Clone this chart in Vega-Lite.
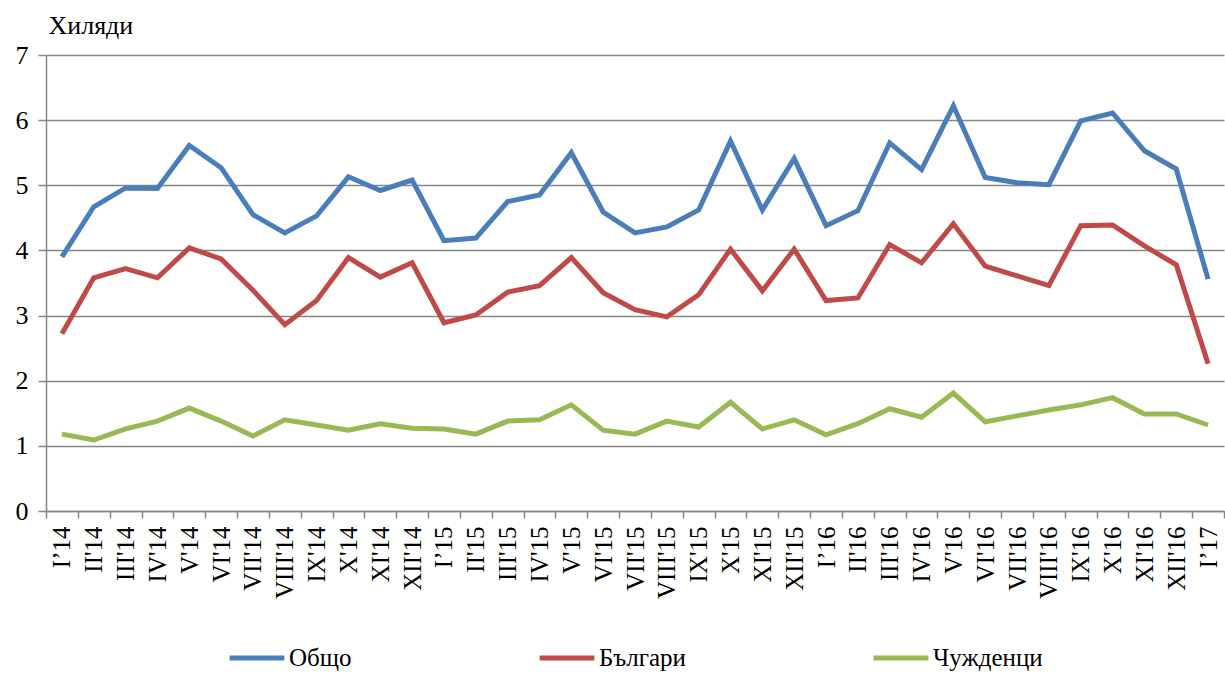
{
  "$schema": "https://vega.github.io/schema/vega-lite/v6.json",
  "autosize": "none",
  "padding": {"left": 46, "top": 55, "right": 1, "bottom": 162},
  "width": 1178,
  "height": 456,
  "background": "white",
  "config": {
    "font": "Liberation Serif",
    "view": {"stroke": null}
  },
  "data": {
    "values": [
      {"m": "I’14", "Общо": 3.90, "Българи": 2.72, "Чужденци": 1.18},
      {"m": "II'14", "Общо": 4.67, "Българи": 3.58, "Чужденци": 1.09},
      {"m": "III'14", "Общо": 4.96, "Българи": 3.72, "Чужденци": 1.26},
      {"m": "IV'14", "Общо": 4.95, "Българи": 3.58, "Чужденци": 1.38},
      {"m": "V'14", "Общо": 5.61, "Българи": 4.04, "Чужденци": 1.58},
      {"m": "VI'14", "Общо": 5.27, "Българи": 3.87, "Чужденци": 1.38},
      {"m": "VII'14", "Общо": 4.55, "Българи": 3.39, "Чужденци": 1.15},
      {"m": "VIII'14", "Общо": 4.27, "Българи": 2.86, "Чужденци": 1.40},
      {"m": "IX'14", "Общо": 4.53, "Българи": 3.23, "Чужденци": 1.32},
      {"m": "X'14", "Общо": 5.13, "Българи": 3.89, "Чужденци": 1.24},
      {"m": "XI'14", "Общо": 4.92, "Българи": 3.59, "Чужденци": 1.34},
      {"m": "XII'14", "Общо": 5.08, "Българи": 3.81, "Чужденци": 1.27},
      {"m": "I’15", "Общо": 4.15, "Българи": 2.89, "Чужденци": 1.26},
      {"m": "II'15", "Общо": 4.19, "Българи": 3.01, "Чужденци": 1.18},
      {"m": "III'15", "Общо": 4.75, "Българи": 3.36, "Чужденци": 1.38},
      {"m": "IV'15", "Общо": 4.85, "Българи": 3.46, "Чужденци": 1.40},
      {"m": "V'15", "Общо": 5.50, "Българи": 3.89, "Чужденци": 1.63},
      {"m": "VI'15", "Общо": 4.59, "Българи": 3.35, "Чужденци": 1.24},
      {"m": "VII'15", "Общо": 4.27, "Българи": 3.09, "Чужденци": 1.18},
      {"m": "VIII'15", "Общо": 4.36, "Българи": 2.98, "Чужденци": 1.38},
      {"m": "IX'15", "Общо": 4.62, "Българи": 3.32, "Чужденци": 1.29},
      {"m": "X'15", "Общо": 5.68, "Българи": 4.02, "Чужденци": 1.67},
      {"m": "XI'15", "Общо": 4.62, "Българи": 3.38, "Чужденци": 1.26},
      {"m": "XII'15", "Общо": 5.41, "Българи": 4.02, "Чужденци": 1.40},
      {"m": "I’16", "Общо": 4.38, "Българи": 3.23, "Чужденци": 1.17},
      {"m": "II'16", "Общо": 4.61, "Българи": 3.27, "Чужденци": 1.34},
      {"m": "III'16", "Общо": 5.65, "Българи": 4.09, "Чужденци": 1.57},
      {"m": "IV'16", "Общо": 5.24, "Българи": 3.81, "Чужденци": 1.44},
      {"m": "V'16", "Общо": 6.22, "Българи": 4.41, "Чужденци": 1.81},
      {"m": "VI'16", "Общо": 5.12, "Българи": 3.76, "Чужденци": 1.37},
      {"m": "VII'16", "Общо": 5.04, "Българи": 3.61, "Чужденци": 1.46},
      {"m": "VIII'16", "Общо": 5.01, "Българи": 3.46, "Чужденци": 1.55},
      {"m": "IX'16", "Общо": 5.99, "Българи": 4.38, "Чужденци": 1.63},
      {"m": "X'16", "Общо": 6.11, "Българи": 4.39, "Чужденци": 1.74},
      {"m": "XI'16", "Общо": 5.53, "Българи": 4.07, "Чужденци": 1.49},
      {"m": "XII'16", "Общо": 5.25, "Българи": 3.78, "Чужденци": 1.49},
      {"m": "I’17", "Общо": 3.56, "Българи": 2.26, "Чужденци": 1.32}
    ]
  },
  "transform": [
    {"fold": ["Общо", "Българи", "Чужденци"], "as": ["s", "v"]}
  ],
  "mark": {"type": "line", "strokeWidth": 5, "strokeJoin": "miter"},
  "encoding": {
    "x": {
      "field": "m",
      "type": "nominal",
      "sort": null,
      "bandPosition": 0.5,
      "scale": {"type": "band", "paddingInner": 0, "paddingOuter": 0},
      "axis": {
        "title": null,
        "labelAngle": -90,
        "labelAlign": "right",
        "labelBaseline": "middle",
        "labelFontSize": 25,
        "labelColor": "black",
        "labelPadding": 8,
        "labelOverlap": false,
        "tickBand": "extent",
        "tickSize": 7,
        "tickColor": "#868686",
        "tickWidth": 1.5,
        "domainColor": "#868686",
        "domainWidth": 1.5,
        "grid": false
      }
    },
    "y": {
      "field": "v",
      "type": "quantitative",
      "scale": {"domain": [0, 7], "nice": false},
      "axis": {
        "title": "Хиляди",
        "titleAngle": 0,
        "titleAlign": "left",
        "titleBaseline": "alphabetic",
        "titleX": 2,
        "titleY": -22,
        "titleFontSize": 26,
        "titleFontWeight": "normal",
        "titleColor": "black",
        "values": [0, 1, 2, 3, 4, 5, 6, 7],
        "labelFontSize": 26,
        "labelColor": "black",
        "labelPadding": 10,
        "tickSize": 8,
        "tickColor": "#868686",
        "tickWidth": 1.5,
        "domainColor": "#868686",
        "domainWidth": 1.5,
        "grid": true,
        "gridColor": "#868686",
        "gridWidth": 1.5
      }
    },
    "color": {
      "field": "s",
      "type": "nominal",
      "scale": {
        "domain": ["Общо", "Българи", "Чужденци"],
        "range": ["#4a7ebb", "#be4b48", "#98b954"]
      },
      "legend": {
        "title": null,
        "orient": "none",
        "direction": "horizontal",
        "legendX": 181,
        "legendY": 573,
        "columns": 3,
        "columnPadding": 177,
        "symbolType": "stroke",
        "symbolSize": 3000,
        "symbolStrokeWidth": 5,
        "labelFontSize": 25,
        "labelColor": "black",
        "labelOffset": 2
      }
    }
  }
}
